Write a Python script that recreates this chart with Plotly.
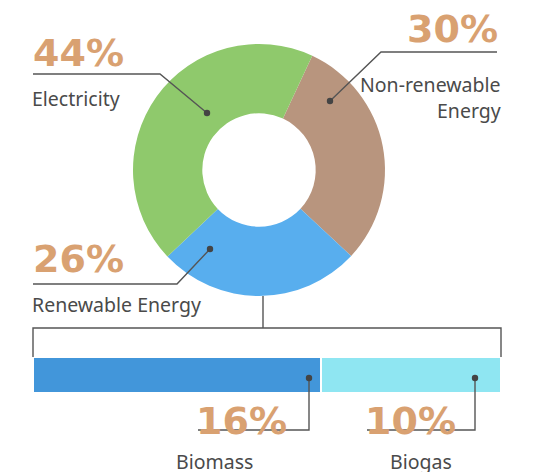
import plotly.graph_objects as go

# ---- data ----
donut_labels = ["Non-renewable Energy", "Renewable Energy", "Electricity"]
donut_values = [30, 26, 44]
split_labels = ["Biomass", "Biogas"]
split_values = [16, 10]

# page body has an 8px margin, so the figure is drawn 8px in from the corner
OFF = 8
W, H = 538 - OFF, 473 - OFF
ORANGE = "#d9a171"
TEXT = "#4a4a4a"
LINE = "#555555"
donut_colors = ["#b8957e", "#58aeee", "#8fc96c"]
split_colors = ["#4296da", "#8fe6f2"]


def px(x):
    return (x - OFF) / W


def py(y):
    return 1 - (y - OFF) / H


fig = go.Figure()

# donut
fig.add_trace(go.Pie(
    labels=donut_labels, values=donut_values, hole=0.45,
    sort=False, direction="clockwise", rotation=25,
    marker=dict(colors=donut_colors, line=dict(width=0)),
    textinfo="none", hoverinfo="label+percent", showlegend=False,
    domain=dict(x=[px(133), px(385)], y=[py(296), py(44)]),
))

# renewable split bar
for lab, val, col in zip(split_labels, split_values, split_colors):
    fig.add_trace(go.Bar(
        x=[val], y=["Renewable"], orientation="h", name=lab,
        marker=dict(color=col, line=dict(color="white", width=2)),
        xaxis="x", yaxis="y", showlegend=False, width=1,
    ))

total = sum(split_values)
fig.update_layout(
    width=W, height=H, margin=dict(l=0, r=0, t=0, b=0),
    paper_bgcolor="white", plot_bgcolor="white",
    barmode="stack", bargap=0,
    xaxis=dict(domain=[px(33), px(501)], range=[0, total], visible=False, fixedrange=True),
    yaxis=dict(domain=[py(393), py(357)], visible=False, fixedrange=True),
)

shapes = []


def path(points):
    d = "M " + " L ".join(f"{px(x)},{py(y)}" for x, y in points)
    return dict(type="path", path=d, xref="paper", yref="paper",
                line=dict(color=LINE, width=1.4))


def dot(x, y):
    r = 3.2
    return dict(type="circle", xref="paper", yref="paper",
                x0=px(x - r), x1=px(x + r), y0=py(y + r), y1=py(y - r),
                fillcolor="#444444", line=dict(width=0))


# donut leaders
shapes += [path([(33, 74), (160, 74), (207, 113)]), dot(207, 113)]
shapes += [path([(497, 52), (381, 52), (330, 101)]), dot(330, 101)]
shapes += [path([(33, 284), (177, 284), (210, 249)]), dot(210, 249)]
# bracket
shapes += [path([(263, 296), (263, 328)]),
           path([(33, 357), (33, 328), (501, 328), (501, 357)])]
# bar leaders
shapes += [path([(309, 378), (309, 430), (198, 430)]), dot(309, 378)]
shapes += [path([(475, 378), (475, 430), (367, 430)]), dot(475, 378)]

PCT_FONT = dict(family="DejaVu Sans", size=38, color=ORANGE, weight="bold")
LAB_FONT = dict(family="Noto Sans", size=19.5, color=TEXT)


def ann(text, x, y, font, xanchor="left", yanchor="middle", height=None):
    a = dict(text=text, x=px(x), y=py(y), xref="paper", yref="paper",
             xanchor=xanchor, yanchor=yanchor, showarrow=False, font=font)
    if height:
        a["height"] = height
    return a


annotations = [
    ann(f"{donut_values[2]}%", 31, 53, PCT_FONT, height=36),
    ann(donut_labels[2], 30, 99, LAB_FONT),
    ann(f"{donut_values[0]}%", 500, 29, PCT_FONT, xanchor="right", height=36),
    ann("Non-renewable", 503, 84, LAB_FONT, xanchor="right"),
    ann("Energy", 503, 111, LAB_FONT, xanchor="right"),
    ann(f"{donut_values[1]}%", 31, 259, PCT_FONT, height=36),
    ann(donut_labels[1], 30, 304, LAB_FONT),
    ann(f"{split_values[0]}%", 241, 421, PCT_FONT, xanchor="center", height=36),
    ann(f"{split_values[1]}%", 410, 421, PCT_FONT, xanchor="center", height=36),
    ann(split_labels[0], 214, 461, LAB_FONT, xanchor="center", height=22),
    ann(split_labels[1], 421, 461, LAB_FONT, xanchor="center", height=22),
]

fig.update_layout(shapes=shapes, annotations=annotations)
fig.write_html("out.html")
